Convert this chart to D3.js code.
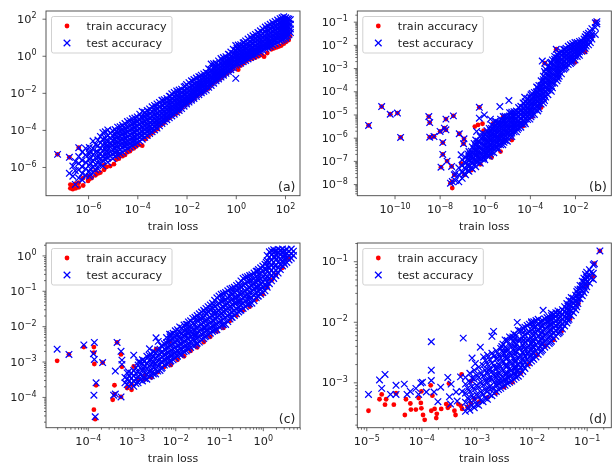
<!DOCTYPE html>
<html>
<head>
<meta charset="utf-8">
<script src="https://cdn.jsdelivr.net/npm/d3@7"></script>
<style>
  html, body { margin: 0; padding: 0; background: #fff; }
  svg { display: block; filter: blur(0.4px); }
  text { font-family: "DejaVu Sans", sans-serif; fill: #222; }
</style>
</head>
<body>
<svg id="chart" width="614" height="464"></svg>
<script>
// values as log10 numbers
// each row is [log10 loss, log10 accuracy, log10 accuracy, ...]
const trainA = [
  [-6.72,-7.15,-6.95],[-6.62,-7.0,-7.2],[-6.5,-7.15,-6.9],[-6.38,-7.1,-6.85],[-6.2,-7.0,-6.6],
  [-6.0,-6.75,-6.5],[-5.85,-6.6],[-5.7,-6.45,-6.2],[-5.5,-6.3],[-5.35,-6.15,-5.9],[-5.1,-5.95],
  [-4.95,-5.85],[-4.75,-5.55,-5.35],[-4.5,-5.35],[-4.3,-5.15],[-4.05,-4.9],[-3.8,-4.85],[-3.55,-4.35],
  [-3.3,-4.05],[-3.05,-3.75],[-2.8,-3.45],[-2.55,-3.2],[-2.3,-3.0],[-2.05,-2.65],[-1.8,-2.4],
  [-1.55,-2.15],[-1.3,-1.9],[-1.1,-1.75],[-0.85,-1.4],[-0.6,-1.2,-1.05],[-0.35,-0.95],[-0.1,-0.7],
  [0.1,-0.6,-0.75],[0.3,-0.4],[0.55,-0.2],[0.8,-0.1],[1.05,0.05],[1.15,-0.05],[1.45,0.35],[1.65,0.45],
  [1.85,0.55],[2.05,0.75],[2.15,0.85],[2.2,1.05],[-6.38,-4.96],[-6.76,-5.48],[-7.24,-5.32],
  [-5.95,-6.65],[-5.6,-6.35],[-5.25,-6.0],[-4.85,-5.6],[-4.6,-5.42],[-4.4,-5.2],[-4.15,-5.0],[-3.95,-4.8],[-3.68,-4.5],
  [-3.42,-4.2],[-3.18,-3.95],[-2.92,-3.62],[-2.68,-3.35],[-2.42,-3.12],[-2.18,-2.8],[-1.92,-2.52],[-1.68,-2.3],
  [-1.42,-2.03],[-1.2,-1.83],[-0.97,-1.55],[-0.72,-1.3],[-0.47,-1.05],[-0.22,-0.82],[0.2,-0.52],[0.42,-0.3],
  [0.68,-0.15],[0.93,-0.02],[1.28,0.15],[1.55,0.4],[1.75,0.5],[1.95,0.65]
];
const testA = [
  [-7.24,-5.32],[-6.76,-5.48,-6.34],[-6.62,-5.95,-6.5],[-6.52,-6.94,-6.2,-5.7],
  [-6.38,-4.96,-5.44,-5.8,-6.15,-6.6],[-6.24,-5.2,-5.65,-6.0,-6.35,-6.7],
  [-6.1,-5.0,-5.35,-5.75,-6.1,-6.45],[-5.95,-4.95,-5.3,-5.6,-5.9,-6.25,-6.5],
  [-5.8,-4.6,-5.0,-5.35,-5.7,-6.0,-6.3],[-5.6,-4.55,-4.85,-5.2,-5.5,-5.8,-6.1],
  [-5.4,-4.15,-4.5,-4.8,-5.1,-5.4,-5.65,-5.95],[-5.2,-4.0,-4.3,-4.65,-4.95,-5.25,-5.5,-5.75],
  [-5.0,-4.05,-4.3,-4.55,-4.8,-5.05,-5.3,-5.55],[-4.8,-3.85,-4.15,-4.4,-4.65,-4.9,-5.15,-5.35],
  [-4.6,-3.75,-4.0,-4.25,-4.5,-4.75,-4.95,-5.2],[-4.4,-3.55,-3.85,-4.1,-4.35,-4.6,-4.8,-5.0],
  [-4.2,-3.4,-3.7,-3.95,-4.2,-4.45,-4.65,-4.85],[-4.0,-3.3,-3.55,-3.8,-4.05,-4.3,-4.5,-4.7],
  [-3.8,-3.0,-3.35,-3.6,-3.85,-4.1,-4.3,-4.5],[-3.6,-2.95,-3.2,-3.45,-3.7,-3.9,-4.1,-4.3],
  [-3.4,-2.75,-3.0,-3.25,-3.5,-3.7,-3.9,-4.1],[-3.2,-2.6,-2.85,-3.1,-3.3,-3.5,-3.7,-3.9],
  [-3.0,-2.4,-2.65,-2.9,-3.1,-3.3,-3.5,-3.65],[-2.8,-2.3,-2.5,-2.7,-2.9,-3.1,-3.3,-3.45],
  [-2.6,-2.05,-2.3,-2.5,-2.7,-2.9,-3.1,-3.25],[-2.4,-1.9,-2.15,-2.35,-2.55,-2.75,-2.9,-3.05],
  [-2.2,-1.8,-2.0,-2.2,-2.4,-2.55,-2.7,-2.85],[-2.0,-1.55,-1.8,-2.0,-2.2,-2.35,-2.5,-2.6],
  [-1.8,-1.35,-1.6,-1.8,-2.0,-2.15,-2.3,-2.4],[-1.6,-1.2,-1.45,-1.65,-1.8,-1.95,-2.1,-2.2],
  [-1.4,-1.05,-1.25,-1.45,-1.6,-1.75,-1.9,-2.0],[-1.2,-0.9,-1.1,-1.25,-1.4,-1.55,-1.7,-1.85],
  [-1.0,-0.45,-0.75,-0.95,-1.15,-1.3,-1.45,-1.6],[-0.8,-0.4,-0.6,-0.8,-0.95,-1.1,-1.25,-1.35],
  [-0.6,-0.15,-0.4,-0.6,-0.75,-0.9,-1.05,-1.15],[-0.4,-0.05,-0.25,-0.4,-0.55,-0.7,-0.85,-0.95],
  [-0.2,0.2,-0.05,-0.2,-0.35,-0.5,-0.65,-0.75],[0.0,0.55,0.3,0.1,-0.05,-0.2,-0.35,-0.5,-1.22],
  [0.2,0.6,0.4,0.2,0.05,-0.1,-0.25,-0.4],[0.4,0.8,0.6,0.4,0.2,0.05,-0.1,-0.25],
  [0.6,1.0,0.75,0.55,0.35,0.2,0.05,-0.1],[0.8,1.15,0.95,0.75,0.55,0.35,0.2,0.05],
  [1.0,1.35,1.1,0.9,0.7,0.5,0.35,0.2],[1.2,1.55,1.3,1.05,0.85,0.65,0.5,0.4],
  [1.4,1.7,1.45,1.2,1.0,0.8,0.65,0.5],[1.6,1.85,1.6,1.4,1.2,1.0,0.85,0.65],
  [1.8,2.0,1.75,1.55,1.35,1.15,1.0,0.8],[1.95,2.1,1.85,1.65,1.45,1.25,1.05,0.9],
  [2.1,2.0,1.8,1.6,1.4,1.2,1.05],[2.22,1.95,1.7,1.45,1.25]
];
const testAFill = [
  [-5.9,-5.15,-5.5,-5.8,-6.1,-6.4],[-5.7,-4.8,-5.2,-5.5,-5.85,-6.15],[-5.5,-4.35,-4.7,-5.0,-5.3,-5.55,-5.85],
  [-5.3,-4.1,-4.45,-4.75,-5.05,-5.35,-5.6],[-5.1,-4.18,-4.43,-4.72,-4.93,-5.2,-5.42],
  [-4.9,-3.98,-4.27,-4.52,-4.76,-5.02,-5.25,-5.42],[-4.7,-3.83,-4.07,-4.33,-4.58,-4.82,-5.07,-5.27],
  [-4.5,-3.66,-3.92,-4.17,-4.43,-4.68,-4.88,-5.1],[-4.3,-3.5,-3.78,-4.02,-4.27,-4.53,-4.73,-4.93],
  [-4.1,-3.36,-3.63,-3.87,-4.12,-4.37,-4.58,-4.77],[-3.9,-3.15,-3.47,-3.7,-3.95,-4.18,-4.38,-4.6],
  [-3.7,-3.05,-3.28,-3.53,-3.77,-4.0,-4.2,-4.4],[-3.5,-2.87,-3.12,-3.36,-3.6,-3.82,-4.02,-4.2],
  [-3.3,-2.68,-2.93,-3.18,-3.42,-3.62,-3.82,-4.0],[-3.1,-2.52,-2.77,-3.0,-3.22,-3.42,-3.62,-3.78],
  [-2.9,-2.37,-2.58,-2.8,-3.0,-3.2,-3.4,-3.55],[-2.7,-2.18,-2.4,-2.62,-2.82,-3.0,-3.2,-3.35],
  [-2.5,-1.98,-2.22,-2.43,-2.63,-2.82,-3.0,-3.15],[-2.3,-1.85,-2.07,-2.28,-2.48,-2.65,-2.82,-2.95],
  [-2.1,-1.68,-1.9,-2.1,-2.3,-2.45,-2.6,-2.72],[-1.9,-1.45,-1.7,-1.9,-2.1,-2.25,-2.4,-2.5],
  [-1.7,-1.28,-1.52,-1.72,-1.9,-2.05,-2.2,-2.3],[-1.5,-1.13,-1.35,-1.55,-1.7,-1.85,-2.0,-2.1],
  [-1.3,-0.98,-1.18,-1.35,-1.5,-1.65,-1.8,-1.92],[-1.1,-0.7,-0.95,-1.1,-1.28,-1.42,-1.57,-1.7],
  [-0.9,-0.43,-0.68,-0.88,-1.05,-1.2,-1.35,-1.48],[-0.7,-0.28,-0.5,-0.7,-0.85,-1.0,-1.15,-1.25],
  [-0.5,-0.1,-0.33,-0.5,-0.65,-0.8,-0.95,-1.05],[-0.3,0.08,-0.15,-0.3,-0.45,-0.6,-0.75,-0.85],
  [-0.1,0.35,0.12,-0.08,-0.22,-0.37,-0.52,-0.65],[0.1,0.58,0.35,0.15,0.0,-0.15,-0.3,-0.45],
  [0.3,0.7,0.5,0.3,0.12,-0.02,-0.17,-0.32],[0.5,0.9,0.68,0.48,0.28,0.12,-0.02,-0.17],
  [0.7,1.08,0.85,0.65,0.45,0.28,0.12,-0.02],[0.9,1.25,1.03,0.83,0.63,0.43,0.28,0.13],
  [1.1,1.45,1.2,0.98,0.78,0.58,0.43,0.3],[1.3,1.62,1.38,1.13,0.93,0.73,0.58,0.45],
  [1.5,1.78,1.53,1.3,1.1,0.9,0.75,0.58],[1.7,1.93,1.68,1.48,1.28,1.08,0.93,0.73],
  [1.88,2.05,1.8,1.6,1.4,1.2,1.03,0.85],[2.03,2.05,1.83,1.63,1.43,1.23,1.05,0.95],
  [2.16,1.98,1.75,1.53,1.33,1.13],
  [-5.25,-4.55,-4.85,-5.15,-5.45],[-4.85,-4.1,-4.35,-4.6,-4.85,-5.1],[-4.55,-3.85,-4.1,-4.35,-4.6,-4.85],
  [-4.15,-3.6,-3.85,-4.1,-4.35,-4.6],[-3.85,-3.3,-3.55,-3.8,-4.05,-4.3],[-3.55,-3.0,-3.25,-3.5,-3.75,-4.0],
  [-3.25,-2.75,-3.0,-3.25,-3.5,-3.75],[-2.95,-2.45,-2.7,-2.95,-3.2,-3.4],[-2.65,-2.2,-2.45,-2.65,-2.85,-3.05],
  [-2.35,-1.95,-2.2,-2.4,-2.6,-2.8],[-2.05,-1.65,-1.9,-2.1,-2.3,-2.5],[-1.75,-1.4,-1.65,-1.85,-2.05,-2.25],
  [-1.45,-1.15,-1.4,-1.55,-1.75,-1.95],[-1.15,-0.95,-1.2,-1.35,-1.5,-1.65],[-0.85,-0.55,-0.75,-0.95,-1.1,-1.3],
  [-0.55,-0.25,-0.5,-0.7,-0.85,-1.0],[-0.25,0.05,-0.15,-0.35,-0.5,-0.7],[0.05,0.4,0.2,0.0,-0.2,-0.4],
  [0.35,0.7,0.45,0.25,0.1,-0.1],[0.65,0.9,0.65,0.45,0.25,0.1],[0.95,1.2,0.95,0.75,0.55,0.35],
  [1.25,1.45,1.2,0.95,0.75,0.55],[1.55,1.7,1.45,1.25,1.05,0.85],[1.85,1.9,1.65,1.45,1.25,1.05],[2.05,1.9,1.7,1.5,1.3,1.1]
];

const trainB = [
  [-11.15,-5.47],[-10.57,-4.66],[-10.19,-4.99],[-9.87,-4.94],[-9.73,-5.99],[-8.48,-5.09],[-8.44,-5.35,-5.98],
  [-8.25,-5.95],[-7.98,-5.73],[-7.94,-7.27],[-7.86,-6.21,-6.72],[-7.79,-5.59],[-7.72,-5.2,-5.66],[-7.67,-7.01],
  [-7.47,-7.24],[-7.39,-5.06],[-7.13,-5.83],[-6.92,-6.05],[-6.94,-6.26],[-7.04,-7.12],[-7.35,-7.6],
  [-7.44,-7.89,-8.17],[-7.52,-7.96],[-6.24,-4.69],[-6.44,-5.52],[-6.3,-5.45],[-6.1,-5.4],[-5.63,-5.4],[-6.05,-5.7],
  [-5.18,-5.09],[-5.3,-5.9],[-6.9,-7.6],[-6.6,-7.4],[-6.2,-7.15],[-5.7,-6.85],[-5.3,-6.6],[-4.8,-6.1],[-4.3,-5.5],
  [-3.9,-5.1],[-3.5,-4.7],[-3.34,-2.79],[-2.83,-2.19],[-2.0,-2.75],[-1.55,-2.3],[-1.25,-1.65],[-1.1,-1.0]
];
const testB = [
  [-11.15,-5.47],[-10.57,-4.66],[-10.19,-4.99],[-9.87,-4.94],[-9.73,-5.99],[-8.48,-5.09],[-8.44,-5.35,-5.98],
  [-8.25,-5.95],[-7.98,-5.73],[-7.94,-7.27],[-7.86,-6.21,-6.72],[-7.79,-5.59],[-7.72,-5.2,-5.66],[-7.67,-7.01],
  [-7.47,-7.24],[-7.39,-5.06],[-7.13,-5.83],[-6.92,-6.05],[-6.94,-6.26],[-7.05,-6.74],[-7.35,-7.6],
  [-7.44,-7.89],[-7.52,-7.96],[-6.24,-4.69,-5.16],[-6.02,-5.02],[-6.36,-5.73],[-5.33,-4.66],[-4.93,-4.4],
  [-5.18,-5.09],[-5.75,-5.2],[-5.55,-5.3],[-4.23,-4.26],[-3.34,-2.79],[-2.83,-2.19],[-3.45,-2.7],
  [-7.3,-7.85,-7.55],[-7.15,-7.9,-7.6,-7.3],[-7.0,-7.75,-7.5,-7.2,-6.95],[-6.85,-7.6,-7.35,-7.1,-6.85],
  [-6.7,-7.45,-7.25,-7.0,-6.8,-6.6],[-6.55,-7.35,-7.1,-6.9,-6.65,-6.4],[-6.4,-7.25,-7.0,-6.8,-6.6,-6.35,-6.1],
  [-6.2,-7.1,-6.9,-6.7,-6.45,-6.2,-5.95],[-6.0,-6.95,-6.75,-6.55,-6.35,-6.1,-5.85],
  [-5.8,-6.8,-6.6,-6.4,-6.2,-6.0,-5.8,-5.6],[-5.6,-6.65,-6.45,-6.25,-6.05,-5.85,-5.65,-5.5],
  [-5.4,-6.5,-6.3,-6.1,-5.95,-5.75,-5.55,-5.35],[-5.2,-6.3,-6.15,-5.95,-5.8,-5.6,-5.4,-5.25],
  [-5.0,-6.15,-6.0,-5.8,-5.6,-5.45,-5.25,-5.1],[-4.8,-5.95,-5.8,-5.6,-5.4,-5.25,-5.05,-4.9],
  [-4.6,-5.75,-5.55,-5.4,-5.2,-5.0,-4.85],[-4.4,-5.55,-5.4,-5.2,-5.0,-4.85,-4.65],
  [-4.2,-5.4,-5.2,-5.0,-4.85,-4.65,-4.45],[-4.0,-5.2,-5.0,-4.85,-4.65,-4.45,-4.25],
  [-3.8,-5.0,-4.8,-4.6,-4.45,-4.25,-4.05],[-3.6,-4.75,-4.55,-4.35,-4.15,-3.95,-3.75],
  [-3.4,-4.5,-4.3,-4.1,-3.9,-3.7,-3.5,-3.35],[-3.2,-4.15,-3.95,-3.75,-3.55,-3.35,-3.15,-2.95],
  [-3.0,-3.85,-3.65,-3.45,-3.25,-3.05,-2.85,-2.65],[-2.8,-3.55,-3.35,-3.15,-2.95,-2.75,-2.55,-2.4],
  [-2.6,-3.25,-3.05,-2.85,-2.65,-2.45,-2.3],[-2.4,-2.95,-2.8,-2.6,-2.45,-2.3,-2.15],
  [-2.2,-2.8,-2.65,-2.5,-2.3,-2.15,-2.0],[-2.0,-2.65,-2.5,-2.35,-2.2,-2.05,-1.9],
  [-1.8,-2.45,-2.3,-2.15,-2.0,-1.85],[-1.6,-2.25,-2.1,-1.9,-1.75],[-1.4,-2.0,-1.8,-1.6,-1.5],
  [-1.25,-1.75,-1.55,-1.3],[-1.1,-1.55,-1.25,-1.05],[-1.03,-1.0,-1.1]
];
const testBFill = [
  [-6.9,-7.55,-7.3,-7.05],[-6.75,-7.42,-7.18,-6.93,-6.7],[-6.6,-7.3,-7.05,-6.82,-6.58],
  [-6.47,-7.18,-6.97,-6.72,-6.5,-6.25],[-6.3,-7.05,-6.85,-6.62,-6.4,-6.15],
  [-6.1,-6.92,-6.72,-6.52,-6.28,-6.03,-5.8],[-5.9,-6.78,-6.58,-6.38,-6.16,-5.93,-5.7],
  [-5.7,-6.62,-6.42,-6.22,-6.02,-5.82,-5.6,-5.45],[-5.5,-6.45,-6.25,-6.05,-5.88,-5.68,-5.48,-5.3],
  [-5.3,-6.3,-6.12,-5.95,-5.78,-5.58,-5.38,-5.2],[-5.1,-6.12,-5.95,-5.78,-5.62,-5.42,-5.25,-5.08],
  [-4.9,-5.95,-5.78,-5.6,-5.42,-5.24,-5.06,-4.92],[-4.7,-5.75,-5.58,-5.42,-5.24,-5.05,-4.88],
  [-4.5,-5.58,-5.42,-5.25,-5.06,-4.9,-4.7],[-4.3,-5.42,-5.25,-5.06,-4.88,-4.7,-4.5],
  [-4.1,-5.22,-5.05,-4.88,-4.7,-4.5,-4.32],[-3.9,-5.02,-4.85,-4.66,-4.48,-4.28,-4.1],
  [-3.7,-4.8,-4.62,-4.42,-4.22,-4.02,-3.82],[-3.5,-4.55,-4.35,-4.15,-3.95,-3.75,-3.55],
  [-3.3,-4.25,-4.05,-3.85,-3.65,-3.45,-3.22,-3.05],[-3.1,-3.95,-3.75,-3.55,-3.35,-3.15,-2.95,-2.78],
  [-2.9,-3.65,-3.45,-3.25,-3.05,-2.85,-2.62,-2.5],[-2.7,-3.35,-3.15,-2.95,-2.75,-2.55,-2.35],
  [-2.5,-3.05,-2.88,-2.7,-2.52,-2.35,-2.2],[-2.3,-2.85,-2.7,-2.55,-2.38,-2.22,-2.06],
  [-2.1,-2.7,-2.55,-2.4,-2.25,-2.1,-1.95],[-1.9,-2.5,-2.35,-2.2,-2.05,-1.9],
  [-1.7,-2.28,-2.12,-1.97,-1.82],[-1.5,-2.05,-1.85,-1.68,-1.55],[-1.32,-1.9,-1.65,-1.42],
  [-6.65,-7.2,-6.95,-6.7],[-6.35,-7.0,-6.75,-6.5,-6.25],[-6.05,-6.85,-6.6,-6.35,-6.15,-5.95],
  [-5.75,-6.7,-6.5,-6.3,-6.1,-5.9,-5.7],[-5.45,-6.4,-6.2,-6.0,-5.8,-5.6,-5.4],[-5.15,-6.2,-6.0,-5.85,-5.65,-5.45,-5.3],
  [-4.85,-5.85,-5.7,-5.5,-5.3,-5.15,-4.95],[-4.55,-5.65,-5.45,-5.3,-5.1,-4.9],[-4.25,-5.3,-5.1,-4.95,-4.75,-4.55],
  [-3.95,-5.1,-4.9,-4.75,-4.55,-4.35,-4.15],[-3.65,-4.85,-4.65,-4.45,-4.25,-4.05,-3.85],
  [-3.35,-4.4,-4.2,-4.0,-3.8,-3.6,-3.4,-3.15],[-3.05,-4.0,-3.8,-3.6,-3.4,-3.2,-3.0,-2.75],
  [-2.75,-3.45,-3.25,-3.05,-2.85,-2.65,-2.45],[-2.45,-3.0,-2.85,-2.7,-2.5,-2.35,-2.2],
  [-2.15,-2.75,-2.6,-2.45,-2.25,-2.05],[-1.85,-2.4,-2.25,-2.1,-1.95],[-1.55,-2.15,-2.0,-1.8,-1.65]
];

const trainC = [
  [-4.7,-2.98],[-4.43,-2.8],[-4.09,-2.59],[-3.86,-2.59,-2.75,-4.36],[-3.85,-3.07],[-3.66,-3.03],[-3.81,-3.67],[-3.83,-4.63],
  [-3.39,-3.67],[-3.43,-4.08],[-3.39,-3.92],[-3.24,-4.0],[-3.33,-2.46],[-3.24,-2.8],[-3.22,-3.15],[-2.95,-3.14],
  [-2.44,-2.65],[-2.13,-2.43],[-3.1,-3.75],[-3.0,-3.8,-3.65],[-2.85,-3.5],[-2.7,-3.5,-3.4],[-2.55,-3.45],[-2.4,-3.3],
  [-2.25,-3.15],[-2.1,-3.1],[-1.95,-2.95],[-1.8,-2.85],[-1.65,-2.7],[-1.5,-2.6],[-1.35,-2.45],[-1.2,-2.3],[-1.05,-2.15],
  [-0.9,-2.05],[-0.75,-1.85],[-0.6,-1.7],[-0.45,-1.55],[-0.3,-1.45],[-0.15,-1.25],[0.0,-1.1],[0.1,-0.9],[0.2,-0.7],
  [0.3,-0.55],[0.45,-0.35],[0.6,-0.1]
];
const testC = [
  [-4.7,-2.65],[-4.43,-2.8],[-4.09,-2.53],[-3.85,-2.46],[-3.87,-2.78],[-3.85,-2.94],[-3.66,-3.03],[-3.81,-3.6],
  [-3.86,-3.95],[-3.83,-4.56],[-3.37,-3.27],[-3.41,-3.95],[-3.37,-3.92],[-3.24,-4.0],[-3.33,-2.46],[-3.24,-2.71],
  [-3.22,-2.96,-3.08],[-2.95,-2.82],[-2.84,-3.01],[-3.07,-3.29],[-2.59,-2.64],[-2.44,-2.33],[-2.39,-2.43],[-2.13,-2.23],
  [-3.15,-3.6,-3.45],[-3.05,-3.7,-3.55,-3.4],[-2.95,-3.7,-3.55,-3.4,-3.25],[-2.85,-3.6,-3.45,-3.3,-3.1],
  [-2.75,-3.55,-3.4,-3.25,-3.05,-2.95],[-2.65,-3.5,-3.35,-3.2,-3.05,-2.85],[-2.55,-3.4,-3.25,-3.1,-2.95,-2.8],
  [-2.45,-3.35,-3.2,-3.05,-2.9,-2.75],[-2.35,-3.25,-3.1,-2.95,-2.8,-2.65],[-2.25,-3.1,-2.95,-2.8,-2.65,-2.5],
  [-2.15,-3.05,-2.9,-2.75,-2.6,-2.45],[-2.05,-2.95,-2.8,-2.65,-2.5,-2.35,-2.2],[-1.95,-2.85,-2.7,-2.55,-2.4,-2.25,-2.1],
  [-1.85,-2.8,-2.65,-2.5,-2.35,-2.2,-2.05],[-1.75,-2.7,-2.55,-2.4,-2.25,-2.1,-1.95],[-1.65,-2.6,-2.45,-2.3,-2.15,-2.0,-1.85],
  [-1.55,-2.55,-2.4,-2.25,-2.1,-1.95,-1.75],[-1.45,-2.45,-2.3,-2.15,-2.0,-1.8,-1.65],[-1.35,-2.35,-2.2,-2.05,-1.9,-1.75,-1.55],
  [-1.25,-2.25,-2.1,-1.95,-1.8,-1.6,-1.45],[-1.15,-2.15,-2.0,-1.85,-1.7,-1.5,-1.35],[-1.05,-2.1,-1.95,-1.75,-1.6,-1.4,-1.2],
  [-0.95,-2.0,-1.85,-1.65,-1.5,-1.3,-1.1],[-0.85,-1.95,-1.75,-1.55,-1.4,-1.25,-1.05],[-0.75,-1.8,-1.65,-1.45,-1.3,-1.15,-0.95],
  [-0.65,-1.7,-1.55,-1.35,-1.2,-1.05,-0.9],[-0.55,-1.6,-1.45,-1.3,-1.15,-0.95,-0.8],[-0.45,-1.5,-1.35,-1.2,-1.05,-0.85,-0.65],
  [-0.35,-1.4,-1.25,-1.1,-0.95,-0.75,-0.6],[-0.25,-1.35,-1.2,-1.0,-0.85,-0.7,-0.55],[-0.15,-1.2,-1.05,-0.9,-0.75,-0.6,-0.45],
  [-0.05,-1.1,-0.95,-0.8,-0.65,-0.5,-0.35],[0.05,-1.0,-0.85,-0.7,-0.55,-0.4,-0.25],[0.15,-0.8,-0.65,-0.5,-0.35,-0.2,-0.05,0.1],
  [0.25,-0.65,-0.5,-0.35,-0.2,-0.05,0.08,0.16],[0.35,-0.5,-0.35,-0.2,-0.05,0.08,0.17],[0.45,-0.3,-0.15,-0.02,0.1,0.18],
  [0.55,-0.2,-0.07,0.05,0.17],[0.65,-0.08,0.04,0.18],[0.7,0.0,0.12]
];
const testCFill = [
  [-3.1,-3.65,-3.5,-3.32],[-3.0,-3.63,-3.47,-3.33],[-2.9,-3.62,-3.48,-3.33,-3.18],[-2.8,-3.52,-3.37,-3.18,-3.02],
  [-2.7,-3.48,-3.32,-3.13,-2.98],[-2.6,-3.42,-3.27,-3.12,-2.97,-2.82],[-2.5,-3.35,-3.18,-3.02,-2.87,-2.72],
  [-2.4,-3.27,-3.12,-2.97,-2.82,-2.67],[-2.3,-3.17,-3.02,-2.87,-2.72,-2.57],[-2.2,-3.07,-2.92,-2.77,-2.62,-2.47,-2.32],
  [-2.1,-2.98,-2.83,-2.68,-2.53,-2.38,-2.23],[-2.0,-2.9,-2.75,-2.6,-2.45,-2.3,-2.13],[-1.9,-2.8,-2.65,-2.5,-2.35,-2.18,-2.02],
  [-1.8,-2.72,-2.57,-2.42,-2.27,-2.12,-1.97],[-1.7,-2.65,-2.5,-2.35,-2.2,-2.05,-1.88],[-1.6,-2.55,-2.4,-2.25,-2.1,-1.92,-1.78],
  [-1.5,-2.48,-2.33,-2.18,-2.02,-1.85,-1.7],[-1.4,-2.38,-2.23,-2.08,-1.93,-1.78,-1.6],[-1.3,-2.28,-2.13,-1.98,-1.83,-1.65,-1.5],
  [-1.2,-2.2,-2.05,-1.9,-1.75,-1.55,-1.4],[-1.1,-2.12,-1.97,-1.8,-1.65,-1.45,-1.27],[-1.0,-2.02,-1.88,-1.7,-1.55,-1.35,-1.15],
  [-0.9,-1.95,-1.8,-1.6,-1.45,-1.28,-1.08],[-0.8,-1.87,-1.7,-1.5,-1.35,-1.2,-1.0],[-0.7,-1.75,-1.6,-1.4,-1.25,-1.1,-0.93],
  [-0.6,-1.65,-1.5,-1.33,-1.18,-1.0,-0.85],[-0.5,-1.55,-1.4,-1.25,-1.1,-0.9,-0.72],[-0.4,-1.45,-1.3,-1.15,-1.0,-0.8,-0.62],
  [-0.3,-1.37,-1.22,-1.05,-0.9,-0.72,-0.57],[-0.2,-1.28,-1.12,-0.95,-0.8,-0.65,-0.5],[-0.1,-1.15,-1.0,-0.85,-0.7,-0.55,-0.4],
  [0.0,-1.05,-0.9,-0.75,-0.6,-0.45,-0.3],[0.1,-0.9,-0.75,-0.6,-0.45,-0.3,-0.15,0.0],[0.2,-0.72,-0.57,-0.42,-0.27,-0.12,0.02,0.13],
  [0.3,-0.57,-0.42,-0.27,-0.12,0.02,0.13],[0.4,-0.4,-0.25,-0.1,0.03,0.14],[0.5,-0.25,-0.1,0.02,0.13],[0.6,-0.13,0.0,0.12],
  [-2.72,-3.45,-3.2,-3.0],[-2.52,-3.3,-3.05,-2.85],[-2.32,-3.2,-3.0,-2.75,-2.55],[-2.12,-3.0,-2.8,-2.55,-2.3],
  [-1.92,-2.75,-2.55,-2.3,-2.15],[-1.72,-2.6,-2.35,-2.15,-1.95],[-1.52,-2.5,-2.25,-2.05,-1.8],[-1.32,-2.3,-2.05,-1.85,-1.6],
  [-1.12,-2.1,-1.85,-1.6,-1.4],[-0.92,-1.95,-1.7,-1.45,-1.2],[-0.72,-1.75,-1.5,-1.25,-1.05],[-0.52,-1.55,-1.3,-1.05,-0.85],
  [-0.32,-1.35,-1.15,-0.9,-0.7],[-0.12,-1.15,-0.9,-0.65,-0.45],[0.08,-0.85,-0.65,-0.4,-0.2],[0.28,-0.55,-0.3,-0.05,0.1],[0.48,-0.2,-0.05,0.08]
];

const trainD = [
  [-4.96,-3.47],[-4.76,-3.28],[-4.72,-3.2],[-4.66,-3.37],[-4.64,-3.28],[-4.5,-3.37],[-4.46,-3.18],[-4.3,-3.54],[-4.28,-3.28],
  [-4.2,-3.35],[-4.19,-3.45],[-4.1,-3.45],[-4.05,-3.26],[-4.01,-3.34],[-4.0,-3.15,-3.43],[-3.97,-3.54],[-3.94,-3.62],[-3.82,-3.47],
  [-3.83,-3.05],[-3.8,-3.22],[-3.76,-3.44],[-3.73,-3.59],[-3.72,-3.52],[-3.64,-3.44],[-3.55,-3.36],[-3.52,-3.42],[-3.5,-3.02],
  [-3.49,-3.39],[-3.4,-3.47],[-3.38,-3.54],[-3.33,-3.36],[-3.28,-3.39],[-3.27,-2.87],[-3.26,-3.44],[-3.16,-3.41],[-3.1,-3.35],
  [-3.1,-2.98],[-3.04,-3.27],[-2.95,-3.32],[-2.8,-3.25],[-2.65,-3.18],[-2.5,-3.08],[-2.35,-3.0],[-2.2,-2.85],[-2.05,-2.7],
  [-1.9,-2.55],[-1.75,-2.4],[-1.6,-2.3],[-1.45,-2.15],[-1.3,-1.95],[-1.15,-1.7],[-1.0,-1.4],[-0.88,-1.25],[-0.86,-1.04],[-0.76,-0.83]
];
const testD = [
  [-4.96,-3.2],[-4.76,-2.96],[-4.66,-2.87],[-4.72,-3.1],[-4.56,-3.2],[-4.46,-3.05],[-4.46,-3.2],[-4.31,-3.03],[-4.26,-3.2],
  [-4.2,-3.15],[-4.1,-3.1],[-4.05,-3.2],[-4.01,-3.01],[-3.98,-3.0],[-3.91,-3.16],[-3.82,-2.33,-2.8,-2.97],[-3.77,-3.16],
  [-3.65,-3.08],[-3.7,-3.32],[-3.52,-2.92],[-3.46,-3.03],[-3.49,-3.24],[-3.47,-3.36],[-3.37,-3.16],[-3.29,-2.91],[-3.26,-3.15],
  [-3.24,-2.27],[-3.35,-3.31],[-3.08,-2.6],[-3.02,-2.69],[-2.93,-2.42],[-2.87,-2.58],[-2.72,-2.24],[-2.69,-2.16],[-2.54,-2.41],
  [-2.26,-2.01],[-2.34,-2.25],[-2.0,-2.0],[-1.79,-1.81],[-1.64,-1.86],[-2.5,-2.52],
  [-3.2,-3.48,-3.33,-3.18,-3.03,-2.92],[-3.12,-3.46,-3.3,-3.15,-3.0,-2.85],[-3.04,-3.42,-3.28,-3.12,-2.95,-2.8],
  [-2.96,-3.38,-3.24,-3.08,-2.92,-2.75],[-2.88,-3.32,-3.2,-3.05,-2.9,-2.72],[-2.8,-3.28,-3.15,-3.0,-2.85,-2.7,-2.55],
  [-2.72,-3.22,-3.1,-2.95,-2.82,-2.68,-2.52],[-2.64,-3.15,-3.05,-2.92,-2.78,-2.62,-2.48],[-2.56,-3.1,-3.0,-2.88,-2.74,-2.6,-2.44],
  [-2.48,-3.05,-2.95,-2.85,-2.72,-2.58,-2.42,-2.3],[-2.4,-3.0,-2.9,-2.78,-2.66,-2.52,-2.38,-2.25],
  [-2.32,-2.95,-2.85,-2.75,-2.62,-2.48,-2.34,-2.2],[-2.24,-2.9,-2.8,-2.7,-2.58,-2.44,-2.3,-2.14],
  [-2.16,-2.82,-2.72,-2.62,-2.5,-2.38,-2.24,-2.1],[-2.08,-2.72,-2.62,-2.52,-2.42,-2.3,-2.18,-2.06],
  [-2.0,-2.65,-2.55,-2.45,-2.35,-2.25,-2.13,-2.02],[-1.92,-2.58,-2.48,-2.38,-2.28,-2.18,-2.08,-1.98],
  [-1.84,-2.5,-2.4,-2.3,-2.2,-2.1,-2.0],[-1.76,-2.42,-2.32,-2.22,-2.12,-2.02,-1.95],[-1.68,-2.36,-2.26,-2.16,-2.06,-1.98,-1.92],
  [-1.6,-2.28,-2.18,-2.1,-2.02,-1.94,-1.88],[-1.52,-2.2,-2.12,-2.04,-1.96,-1.88,-1.82],[-1.44,-2.12,-2.04,-1.96,-1.88,-1.8],
  [-1.36,-2.02,-1.94,-1.86,-1.78,-1.7],[-1.28,-1.9,-1.82,-1.74,-1.66,-1.6],[-1.2,-1.8,-1.72,-1.64,-1.56],
  [-1.12,-1.62,-1.54,-1.46,-1.4],[-1.05,-1.52,-1.42,-1.34,-1.28],[-1.0,-1.42,-1.34,-1.26,-1.18],[-0.95,-1.36,-1.24,-1.14],
  [-0.88,-1.3,-1.2,-1.06],[-0.86,-1.04],[-0.76,-0.83]
];
const testDFill = [
  [-3.16,-3.42,-3.26,-3.1],[-3.08,-3.38,-3.22,-3.07,-2.93],[-3.0,-3.36,-3.2,-3.05,-2.88],[-2.92,-3.3,-3.16,-3.0,-2.84],
  [-2.84,-3.26,-3.12,-2.97,-2.8,-2.64],[-2.76,-3.2,-3.07,-2.92,-2.77,-2.62],[-2.68,-3.18,-3.1,-3.0,-2.88,-2.73,-2.57],
  [-2.6,-3.12,-3.02,-2.96,-2.84,-2.7,-2.54],[-2.52,-3.07,-2.97,-2.92,-2.8,-2.66,-2.5,-2.37],
  [-2.44,-3.02,-2.92,-2.84,-2.72,-2.59,-2.45,-2.31],[-2.36,-2.98,-2.88,-2.8,-2.69,-2.55,-2.41,-2.27],
  [-2.28,-2.92,-2.82,-2.74,-2.64,-2.5,-2.37,-2.22],[-2.2,-2.86,-2.76,-2.66,-2.55,-2.43,-2.3,-2.15],
  [-2.12,-2.77,-2.67,-2.57,-2.46,-2.34,-2.22,-2.09],[-2.04,-2.68,-2.58,-2.5,-2.4,-2.29,-2.17,-2.04],
  [-1.96,-2.62,-2.52,-2.43,-2.33,-2.22,-2.1,-2.0],[-1.88,-2.54,-2.44,-2.34,-2.24,-2.14,-2.04,-1.96],
  [-1.8,-2.46,-2.36,-2.26,-2.16,-2.06,-1.98],[-1.72,-2.39,-2.29,-2.19,-2.09,-2.0,-1.93],[-1.64,-2.32,-2.22,-2.13,-2.04,-1.96,-1.9],
  [-1.56,-2.24,-2.15,-2.07,-1.99,-1.91,-1.85],[-1.48,-2.16,-2.08,-2.0,-1.92,-1.84],[-1.4,-2.07,-1.99,-1.91,-1.83,-1.75],
  [-1.32,-1.96,-1.88,-1.8,-1.72,-1.65],[-1.24,-1.85,-1.77,-1.69,-1.61],[-1.16,-1.7,-1.62,-1.54,-1.47],
  [-1.08,-1.57,-1.48,-1.4,-1.33],[-1.02,-1.47,-1.38,-1.3,-1.22],[-0.92,-1.28,-1.18],
  [-2.78,-3.1,-2.95,-2.8],[-2.62,-3.0,-2.88,-2.75,-2.6],[-2.46,-2.97,-2.87,-2.75,-2.62,-2.5],
  [-2.3,-2.88,-2.78,-2.67,-2.55,-2.42,-2.28],[-2.14,-2.75,-2.64,-2.53,-2.42,-2.3,-2.17],[-1.98,-2.6,-2.5,-2.4,-2.3,-2.19,-2.07],
  [-1.82,-2.48,-2.37,-2.28,-2.18,-2.07,-2.0],[-1.66,-2.34,-2.24,-2.14,-2.04,-1.96],[-1.5,-2.18,-2.1,-2.02,-1.94,-1.86],
  [-1.34,-1.98,-1.9,-1.82,-1.74],[-1.18,-1.75,-1.66,-1.58,-1.5]
];

const panels = [
  {label: '(a)', x: 46, y: 11, train: trainA, test: testA.concat(testAFill),
   xDomain: [1.95e-8, 407], yDomain: [2.82e-8, 260],
   xMajor: [-6, -4, -2, 0, 2], yMajor: [-6, -4, -2, 0, 2], xMinor: false, yMinor: false},
  {label: '(b)', x: 357.3, y: 11, train: trainB, test: testB.concat(testBFill),
   xDomain: [2.24e-12, 0.407], yDomain: [3.16e-9, 0.288],
   xMajor: [-10, -8, -6, -4, -2], yMajor: [-8, -7, -6, -5, -4, -3, -2, -1], xMinor: false, yMinor: true},
  {label: '(c)', x: 46, y: 243, train: trainC, test: testC.concat(testCFill),
   xDomain: [1.11e-5, 7.08], yDomain: [1.35e-5, 2.24],
   xMajor: [-4, -3, -2, -1, 0], yMajor: [-4, -3, -2, -1, 0], xMinor: true, yMinor: true},
  {label: '(d)', x: 357.3, y: 243, train: trainD, test: testD.concat(testDFill),
   xDomain: [6.87e-6, 0.28], yDomain: [1.78e-4, 0.2],
   xMajor: [-5, -4, -3, -2, -1], yMajor: [-3, -2, -1], xMinor: true, yMinor: true}
];

const plotW = 254, plotH = 184.7;
const svg = d3.select('#chart');

function expand(rows){
  let out = [];
  for(const row of rows){
    for(let i = 1; i < row.length; i++){
      out.push({x: Math.pow(10, row[0]), y: Math.pow(10, row[i])});
    }
  }
  return out;
}

function minorValues(domain){
  let vals = [];
  const lo = Math.floor(Math.log10(domain[0])), hi = Math.ceil(Math.log10(domain[1]));
  for(let e = lo; e <= hi; e++){
    for(let s = 2; s < 10; s++){
      const v = s*Math.pow(10, e);
      if(v >= domain[0] && v <= domain[1]) vals.push(v);
    }
  }
  return vals;
}

function powerLabel(sel){
  sel.each(function(){
    const t = d3.select(this);
    const exp = Math.round(Math.log10(+t.datum()));
    t.text(null).attr('font-size', 11.3);
    t.append('tspan').text('10');
    t.append('tspan').attr('dy', -4.5).attr('font-size', 8)
     .text(String(exp).replace('-', '\u2212'));
  });
}

function drawPanel(p){
  const g = svg.append('g').attr('transform', `translate(${p.x},${p.y})`);
  const xScale = d3.scaleLog().domain(p.xDomain).range([0, plotW]);
  const yScale = d3.scaleLog().domain(p.yDomain).range([plotH, 0]);

  const clip = 'clip' + p.label[1];
  g.append('clipPath').attr('id', clip).append('rect').attr('width', plotW).attr('height', plotH);
  const marks = g.append('g').attr('clip-path', `url(#${clip})`);

  marks.selectAll('.train').data(expand(p.train)).enter()
       .append('circle')
       .attr('class', 'train')
       .attr('cx', d => xScale(d.x))
       .attr('cy', d => yScale(d.y))
       .attr('r', 2.4)
       .attr('fill', '#f00');
  marks.selectAll('.test').data(expand(p.test)).enter()
       .append('path')
       .attr('class', 'test')
       .attr('transform', d => `translate(${xScale(d.x)},${yScale(d.y)})`)
       .attr('d', 'M-3.3,-3.3L3.3,3.3M-3.3,3.3L3.3,-3.3')
       .attr('fill', 'none')
       .attr('stroke', '#00f')
       .attr('stroke-width', 1.25);

  const xAxis = d3.axisBottom(xScale).tickSize(3.5).tickPadding(6)
                  .tickValues(p.xMajor.map(e => Math.pow(10, e)));
  const yAxis = d3.axisLeft(yScale).tickSize(3.5).tickPadding(6)
                  .tickValues(p.yMajor.map(e => Math.pow(10, e)));
  const gx = g.append('g').attr('transform', `translate(0,${plotH})`).call(xAxis);
  const gy = g.append('g').call(yAxis);
  gx.selectAll('text').call(powerLabel);
  gy.selectAll('text').call(powerLabel);

  if(p.xMinor){
    g.append('g').attr('class', 'minor').attr('transform', `translate(0,${plotH})`)
     .call(d3.axisBottom(xScale).tickSize(2).tickFormat('').tickValues(minorValues(p.xDomain)));
  }
  if(p.yMinor){
    g.append('g').attr('class', 'minor')
     .call(d3.axisLeft(yScale).tickSize(2).tickFormat('').tickValues(minorValues(p.yDomain)));
  }
  g.selectAll('.domain').remove();
  g.selectAll('.tick line').attr('stroke', '#444').attr('stroke-width', 0.8);

  g.append('rect').attr('width', plotW).attr('height', plotH)
   .attr('fill', 'none').attr('stroke', '#444').attr('stroke-width', 0.9);

  g.append('text').attr('x', plotW/2).attr('y', plotH + 34)
   .attr('text-anchor', 'middle').attr('font-size', 11).text('train loss');
  g.append('text').attr('x', plotW - 4.5).attr('y', plotH - 4.5)
   .attr('text-anchor', 'end').attr('font-size', 12.5).text(p.label);

  // legend
  const leg = g.append('g').attr('transform', 'translate(5.5,5.5)');
  leg.append('rect').attr('width', 120.5).attr('height', 36.5).attr('rx', 2)
     .attr('fill', '#fff').attr('fill-opacity', 0.85).attr('stroke', '#ccc').attr('stroke-width', 0.9);
  leg.append('circle').attr('cx', 15.5).attr('cy', 9.5).attr('r', 2.4).attr('fill', '#f00');
  leg.append('path').attr('transform', 'translate(15.5,26.5)')
     .attr('d', 'M-3.3,-3.3L3.3,3.3M-3.3,3.3L3.3,-3.3').attr('stroke', '#00f').attr('stroke-width', 1.25).attr('fill', 'none');
  leg.append('text').attr('x', 35).attr('y', 13.3).attr('font-size', 11.2).text('train accuracy');
  leg.append('text').attr('x', 35).attr('y', 30.3).attr('font-size', 11.2).text('test accuracy');
}

panels.forEach(drawPanel);
</script>
</body>
</html>
